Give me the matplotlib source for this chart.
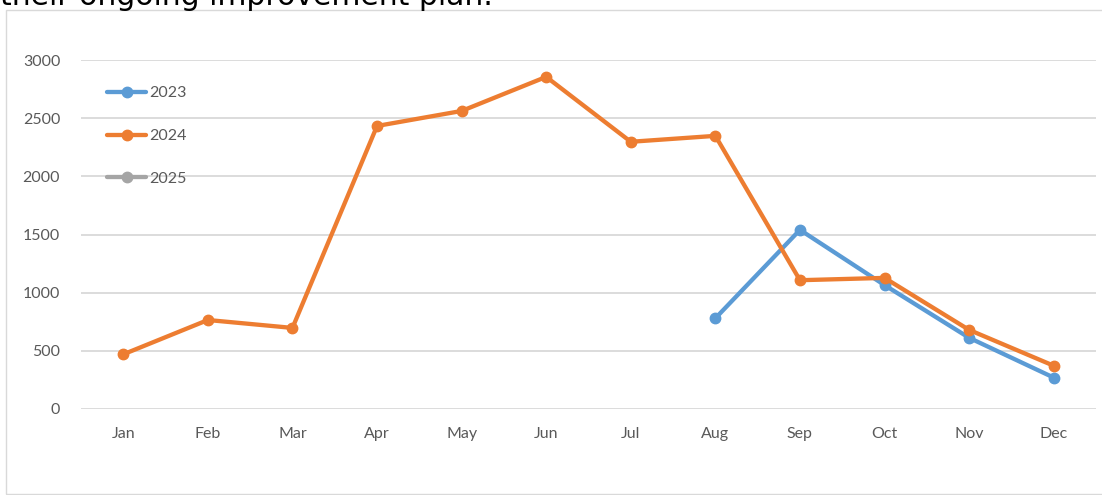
import matplotlib; matplotlib.use("Agg")
import matplotlib.pyplot as plt
from matplotlib.patches import Rectangle
import numpy as np

# ---- data ----
months = ["Jan","Feb","Mar","Apr","May","Jun","Jul","Aug","Sep","Oct","Nov","Dec"]
v2023 = [np.nan]*7 + [780, 1540, 1065, 612, 270]
v2024 = [470, 765, 697, 2433, 2562, 2855, 2297, 2348, 1107, 1127, 680, 372]
v2025 = [np.nan]*12
years = ["2023","2024","2025"]
COLS = ["#5B9BD5","#ED7D31","#A5A5A5"]
GRID = "#D9D9D9"; TXT = "#595959"

W, H = 1102, 495
fig = plt.figure(figsize=(W/100, H/100), dpi=100)
fig.patch.set_facecolor("white")
plt.rcParams["font.family"] = ["Lato", "DejaVu Sans"]

# outer chart frame (right edge runs off the picture)
fig.patches.append(Rectangle((6/W, 1-494/H), 1.2, (494-10)/H, transform=fig.transFigure,
                             fill=False, edgecolor=GRID, lw=1.0))
# cut-off sentence above the chart
fig.text(0, 1-5/H, "their ongoing improvement plan.", fontsize=21.5, color="black",
         family="DejaVu Sans", va="baseline", ha="left")

ax = fig.add_axes([81/W, 1-409/H, (1096-81)/W, (409-60)/H])
x = np.arange(len(months))
for vals, lab, c in zip([v2023, v2024, v2025], years, COLS):
    ax.plot(x, vals, color=c, lw=3.1, marker="o", ms=7.5, label=lab, clip_on=False,
            solid_joinstyle="round", solid_capstyle="round")

ax.set_xlim(-0.5, len(months)-0.5)
ax.set_ylim(0, 3000)
ax.set_yticks(range(0, 3001, 500))
ax.set_xticks(x); ax.set_xticklabels(months)
ax.grid(axis="y", color=GRID, lw=1.3); ax.set_axisbelow(True)
for s in ax.spines.values(): s.set_visible(False)
ax.tick_params(length=0, colors=TXT, labelsize=11.5)
ax.tick_params(axis="y", pad=15)
ax.tick_params(axis="x", pad=13)

leg = ax.legend(loc="upper left", bbox_to_anchor=(107/W, 1-86/H), bbox_transform=fig.transFigure,
                frameon=False, fontsize=11.5, handlelength=2.45, handletextpad=0.2,
                labelspacing=1.8, borderpad=0, borderaxespad=0)
for t in leg.get_texts(): t.set_color(TXT)

fig.savefig("out.png", dpi=100)
